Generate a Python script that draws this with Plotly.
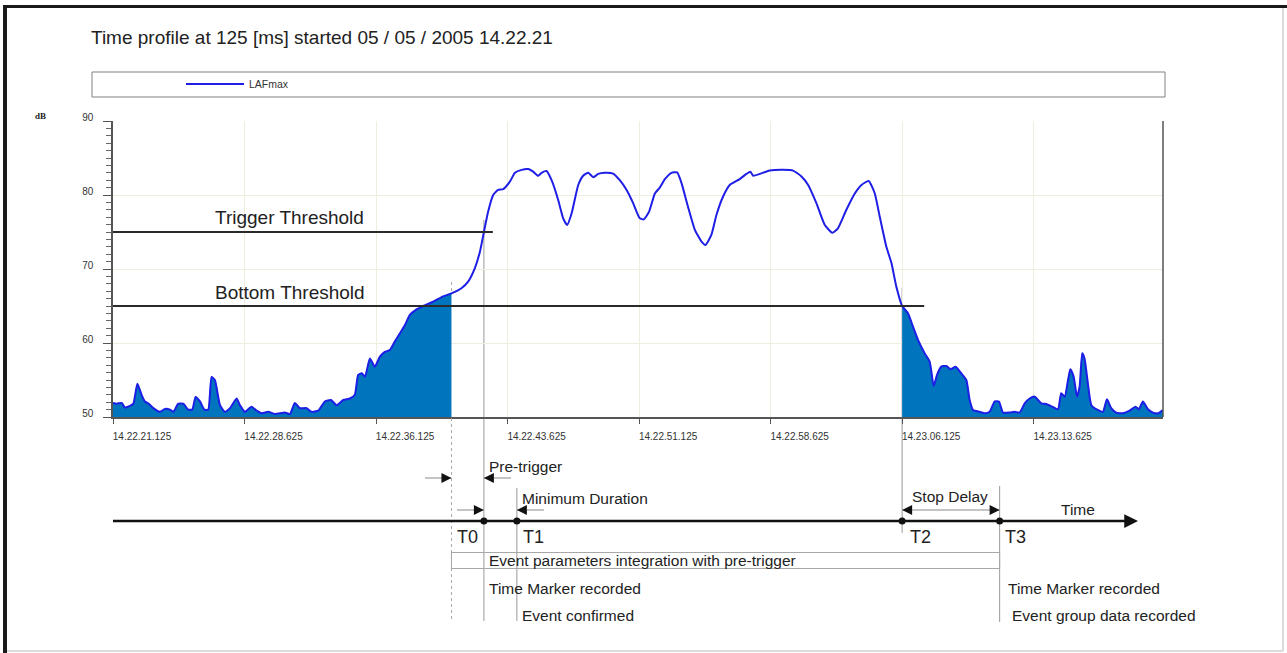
import plotly.graph_objects as go

# ---------------- data ----------------
title_text = "Time profile at 125 [ms] started 05 / 05 / 2005 14.22.21"
series_name = "LAFmax"

# seconds after 14.22.21.125
t_sec = [0.00, 0.21, 0.50, 0.68, 0.97, 1.16, 1.39, 1.63, 1.82, 2.01, 2.30, 2.68, 2.96, 3.25, 3.44,
         3.72, 4.01, 4.29, 4.52, 4.71, 4.96, 5.21, 5.43, 5.62, 5.81, 6.10, 6.38, 6.67, 7.05, 7.24,
         7.52, 7.90, 8.19, 8.48, 8.85, 9.23, 9.80, 10.09, 10.37, 10.66, 11.04, 11.32, 11.70, 12.08,
         12.43, 12.75, 13.13, 13.51, 13.79, 13.98, 14.18, 14.37, 14.65, 14.93, 15.22, 15.50, 15.79,
         16.07, 16.36, 16.64, 16.93, 17.31, 17.69, 18.26, 18.83, 19.30, 19.87, 20.25, 20.63, 20.92,
         21.21, 21.39, 21.68, 21.96, 22.25, 22.63, 22.92, 23.30, 23.68, 23.96, 24.25, 24.44, 24.72,
         25.01, 25.39, 25.67, 25.90, 26.15, 26.53, 26.81, 27.10, 27.39, 27.67, 28.04, 28.52, 28.90,
         29.28, 29.66, 30.04, 30.27, 30.57, 30.90, 31.18, 31.47, 31.85, 32.17, 32.42, 32.79, 33.18,
         33.56, 33.78, 34.12, 34.41, 34.79, 35.17, 35.74, 36.12, 36.35, 36.50, 36.88, 37.45, 38.21,
         38.78, 39.26, 39.64, 40.11, 40.59, 41.02, 41.34, 41.82, 42.30, 42.68, 43.09, 43.44, 43.72,
         44.10, 44.39, 44.67, 45.00, 45.34, 45.62, 45.91, 46.29, 46.57, 46.80, 46.99, 47.23, 47.52,
         47.75, 48.05, 48.37, 48.66, 48.85, 49.04, 49.42, 49.71, 49.99, 50.28, 50.52, 50.75, 51.13,
         51.42, 51.70, 51.99, 52.27, 52.56, 52.94, 53.22, 53.56, 53.89, 54.07, 54.27, 54.46, 54.59,
         54.78, 54.97, 55.12, 55.27, 55.40, 55.59, 55.79, 56.16, 56.45, 56.68, 56.92, 57.21, 57.59,
         57.97, 58.31, 58.50, 58.73, 59.02, 59.30, 59.59, 59.875]
laf_db = [51.9, 51.8, 51.9, 51.3, 51.5, 51.8, 54.5, 53.0, 52.1, 51.85, 51.2, 50.7, 51.1, 51.0, 50.7,
          51.8, 51.8, 51.0, 51.0, 52.7, 52.1, 51.0, 51.0, 55.4, 55.0, 51.6, 50.7, 51.2, 52.5, 51.6,
          50.7, 51.4, 50.85, 50.5, 50.7, 50.4, 50.6, 50.4, 51.9, 51.2, 51.2, 50.7, 50.85, 52.1,
          52.3, 51.6, 52.3, 52.5, 53.0, 55.7, 55.9, 55.45, 57.9, 56.8, 58.15, 58.8, 59.05,
          60.2, 61.3, 62.4, 63.8, 64.55, 65.0, 65.6, 66.3, 66.7, 67.4, 68.3, 70.1, 72.3,
          75.7, 77.75, 80.0, 80.7, 80.8, 81.8, 83.0, 83.4, 83.5, 83.15, 82.6, 83.0, 83.25,
          82.0, 79.3, 76.85, 75.95, 77.5, 81.35, 82.6, 83.0, 82.4, 82.85, 83.0, 82.9, 82.0,
          80.7, 78.9, 76.85, 76.7, 77.75, 80.2, 81.0, 82.15, 83.0, 83.05, 81.6, 78.4, 75.3,
          73.7, 73.25, 74.6, 77.3, 79.8, 81.35, 82.15, 82.85, 83.15, 82.6, 82.85, 83.3, 83.4,
          83.3, 82.5, 81.35, 78.9, 75.95, 74.9, 75.5, 78.0, 80.2, 81.35, 81.9, 80.2, 77.1,
          73.0, 70.8, 67.6, 65.0, 64.0, 62.2, 60.4, 58.6, 57.5, 54.2, 55.7, 56.8, 56.9,
          56.45, 56.8, 55.9, 55.0, 52.3, 50.95, 50.7, 50.5, 50.7, 52.1, 52.1, 50.6, 50.6,
          50.7, 50.6, 51.85, 52.5, 52.75, 51.85, 51.75, 51.4, 51.05, 53.2, 52.75, 55.0, 56.45,
          55.45, 52.75, 54.1, 58.6, 57.9, 54.55, 51.6, 50.95, 50.7, 52.4, 51.2, 50.6, 50.5,
          50.85, 51.4, 51.05, 52.1, 51.05, 50.6, 50.5, 50.95]

tick_seconds = [0, 7.5, 15, 22.5, 30, 37.5, 45, 52.5]
tick_labels = ["14.22.21.125", "14.22.28.625", "14.22.36.125", "14.22.43.625",
               "14.22.51.125", "14.22.58.625", "14.23.06.125", "14.23.13.625"]
x_end = 59.875
db_range = [50, 90]

trigger_threshold = 75
bottom_threshold = 65
trigger_line_end = 21.66
bottom_line_end = 46.26

t_pre = 19.30   # pre-trigger start
t_T0 = 21.15
t_T1 = 23.03
t_T2 = 45.00
t_T3 = 50.56

# ---------------- layout helpers ----------------
W, H = 1287, 653
L, R, T, B = 113, 124, 121, 236
PW, PH = W - L - R, H - T - B


def py(pix):  # pixel y -> paper y
    return (H - B - pix) / PH


def px(pix):  # pixel x -> paper x
    return (pix - L) / PW


def tx(pix):  # pixel x -> data x (seconds)
    return (pix - L) / PW * x_end


LINE_BLUE = "#1e1ee6"
FILL_BLUE = "#0074bd"
GRAY = "#9a9a9a"
FONT = "Arial, Liberation Sans, sans-serif"

fig = go.Figure()

pre_idx = [i for i, t in enumerate(t_sec) if t <= t_pre]
post_idx = [i for i, t in enumerate(t_sec) if t >= t_T2]
for idx in (pre_idx, post_idx):
    fig.add_trace(go.Scatter(
        x=[t_sec[i] for i in idx], y=[laf_db[i] for i in idx],
        mode="lines", line=dict(color=FILL_BLUE, width=0.5, shape="spline", smoothing=0.5),
        fill="tozeroy", fillcolor=FILL_BLUE, showlegend=False, hoverinfo="skip"))

fig.add_trace(go.Scatter(
    x=t_sec, y=laf_db, mode="lines", name=series_name,
    line=dict(color=LINE_BLUE, width=2, shape="spline", smoothing=0.5)))

shapes = []
# outer frame
shapes.append(dict(type="line", xref="paper", yref="paper", x0=px(3), x1=px(1287), y0=py(6.5), y1=py(6.5),
                   line=dict(color="#1a1a1a", width=3)))
shapes.append(dict(type="line", xref="paper", yref="paper", x0=px(5), x1=px(5), y0=py(5), y1=py(653),
                   line=dict(color="#1a1a1a", width=4)))
shapes.append(dict(type="line", xref="paper", yref="paper", x0=px(1283), x1=px(1283), y0=py(8), y1=py(651),
                   line=dict(color="#d0d0d0", width=1.5)))
shapes.append(dict(type="line", xref="paper", yref="paper", x0=px(7), x1=px(1283), y0=py(651), y1=py(651),
                   line=dict(color="#d0d0d0", width=1.5)))
# legend box
shapes.append(dict(type="rect", xref="paper", yref="paper", x0=px(92), x1=px(1165), y0=py(97), y1=py(72),
                   line=dict(color="#808080", width=1)))
# vertical event lines
for y0, y1 in [(282, 294), (418, 621)]:
    shapes.append(dict(type="line", xref="x", yref="paper", x0=t_pre, x1=t_pre, y0=py(y0), y1=py(y1),
                       line=dict(color="#a8a8a8", width=1, dash="dot")))
shapes.append(dict(type="line", xref="x", yref="paper", x0=t_T0, x1=t_T0, y0=py(220), y1=py(621),
                   line=dict(color=GRAY, width=1), layer="below"))
shapes.append(dict(type="line", xref="x", yref="paper", x0=t_T1, x1=t_T1, y0=py(488), y1=py(621),
                   line=dict(color=GRAY, width=1)))
shapes.append(dict(type="line", xref="x", yref="paper", x0=t_T2, x1=t_T2, y0=py(288), y1=py(533),
                   line=dict(color=GRAY, width=1), layer="below"))
shapes.append(dict(type="line", xref="x", yref="paper", x0=t_T3, x1=t_T3, y0=py(486), y1=py(622),
                   line=dict(color=GRAY, width=1)))
# thresholds
shapes.append(dict(type="line", xref="x", yref="y", x0=tx(112), x1=trigger_line_end,
                   y0=trigger_threshold, y1=trigger_threshold, line=dict(color="#2a2a2a", width=2)))
shapes.append(dict(type="line", xref="x", yref="y", x0=tx(112), x1=bottom_line_end,
                   y0=bottom_threshold, y1=bottom_threshold, line=dict(color="#2a2a2a", width=2)))
# right plot border
shapes.append(dict(type="line", xref="paper", yref="paper", x0=1, x1=1, y0=0, y1=1,
                   line=dict(color="#555555", width=1.5)))
# integration box
shapes.append(dict(type="rect", xref="x", yref="paper", x0=t_pre, x1=t_T3, y0=py(568.5), y1=py(552.5),
                   line=dict(color="#a8a8a8", width=1)))
# arrow shafts (gray)
yp = py(478)
ym = py(510)
for a, b, yy in [(tx(425), t_pre, yp), (t_T0, tx(511), yp), (tx(457), t_T0, ym), (t_T1, tx(544), ym),
                 (t_T2, t_T3, ym)]:
    shapes.append(dict(type="line", xref="x", yref="paper", x0=a, x1=b, y0=yy, y1=yy,
                       line=dict(color="#b0b0b0", width=1.5)))
# time axis line
y_axis_line = py(521)
shapes.append(dict(type="line", xref="x", yref="paper", x0=tx(112), x1=tx(1128), y0=y_axis_line, y1=y_axis_line,
                   line=dict(color="#111111", width=2.5)))
# event dots
for tt in (t_T0, t_T1, t_T2, t_T3):
    shapes.append(dict(type="circle", xref="x", yref="paper", xsizemode="pixel", ysizemode="pixel",
                       xanchor=tt, yanchor=y_axis_line, x0=-3.5, x1=3.5, y0=-3.5, y1=3.5,
                       fillcolor="#111111", line=dict(color="#111111", width=0)))

annotations = []


def text(t, yref, y, s, size=15.5, color="#222222", family=FONT):
    annotations.append(dict(x=t, y=y, xref="x", yref=yref, text=s, showarrow=False,
                            xanchor="left", yanchor="middle",
                            font=dict(family=family, size=size, color=color)))


text(tx(213), "y", 90 - (217 - T) / 7.4, "Trigger Threshold", size=19)
text(tx(213), "y", 90 - (292 - T) / 7.4, "Bottom Threshold", size=19)
text(tx(487), "paper", py(466), "Pre-trigger")
text(tx(520), "paper", py(498), "Minimum Duration")
text(tx(910), "paper", py(496), "Stop Delay")
text(tx(1059), "paper", py(509), "Time")
text(tx(455), "paper", py(537), "T0", size=18)
text(tx(521), "paper", py(537), "T1", size=18)
text(tx(908), "paper", py(537), "T2", size=18)
text(tx(1003), "paper", py(537), "T3", size=18)
text(tx(487), "paper", py(560), "Event parameters integration with pre-trigger")
text(tx(487), "paper", py(588), "Time Marker recorded")
text(tx(520), "paper", py(615), "Event confirmed")
text(tx(1006), "paper", py(588), "Time Marker recorded")
text(tx(1010), "paper", py(615), "Event group data recorded")

# dB label
annotations.append(dict(x=px(40), y=py(116), xref="paper", yref="paper", text="<b>dB</b>", showarrow=False,
                        xanchor="center", yanchor="middle",
                        font=dict(family="Liberation Serif, serif", size=9, color="#222222")))


def arrowhead(tip_t, yy, direction):
    annotations.append(dict(x=tip_t, y=yy, xref="x", yref="paper", ax=-9 * direction, ay=0,
                            axref="pixel", ayref="pixel", text="", showarrow=True,
                            arrowhead=2, arrowsize=1, arrowwidth=2, arrowcolor="#111111", standoff=0))


arrowhead(t_pre, yp, 1)
arrowhead(t_T0, yp, -1)
arrowhead(t_T0, ym, 1)
arrowhead(t_T1, ym, -1)
arrowhead(t_T2, ym, -1)
arrowhead(t_T3, ym, 1)
# main time arrow head
annotations.append(dict(x=tx(1138), y=y_axis_line, xref="x", yref="paper", ax=-14, ay=0,
                        text="", showarrow=True, arrowhead=2, arrowsize=1.1, arrowwidth=2.5,
                        arrowcolor="#111111", standoff=0))

fig.update_layout(
    width=W, height=H,
    margin=dict(l=L, r=R, t=T, b=B, pad=0),
    paper_bgcolor="white", plot_bgcolor="white",
    font=dict(family=FONT, color="#333333"),
    title=dict(text=title_text, x=91 / W, xanchor="left", y=1 - 37 / H, yanchor="middle",
               font=dict(family=FONT, size=19, color="#222222")),
    showlegend=True,
    legend=dict(x=px(181), y=py(84), xanchor="left", yanchor="middle", bgcolor="rgba(0,0,0,0)",
                borderwidth=0, font=dict(family=FONT, size=10.5, color="#333333"), itemwidth=58),
    shapes=shapes,
    annotations=annotations,
    xaxis=dict(range=[0, x_end], tickvals=tick_seconds, ticktext=tick_labels,
               showgrid=True, gridcolor="#eeeddf", gridwidth=1, zeroline=False,
               showline=True, linecolor="#555555", linewidth=1.5,
               ticks="outside", ticklen=5, tickcolor="#555555",
               tickfont=dict(family=FONT, size=10, color="#333333"),
               ticklabelshift=29, ticklabelstandoff=4),
    yaxis=dict(range=db_range, tickvals=[50, 60, 70, 80, 90], showgrid=True, gridcolor="#eeeddf",
               zeroline=False, showline=True, linecolor="#555555", linewidth=1.5,
               ticks="outside", ticklen=8, tickcolor="#555555",
               minor=dict(dtick=1, ticks="outside", ticklen=5, tickcolor="#666666", showgrid=False),
               tickfont=dict(family=FONT, size=10, color="#333333"),
               ticklabelstandoff=8, ticklabelshift=-4),
)

fig.write_html("out.html", config={"displayModeBar": False},
               post_script="document.body.style.margin='0px';document.body.style.padding='0px';")
